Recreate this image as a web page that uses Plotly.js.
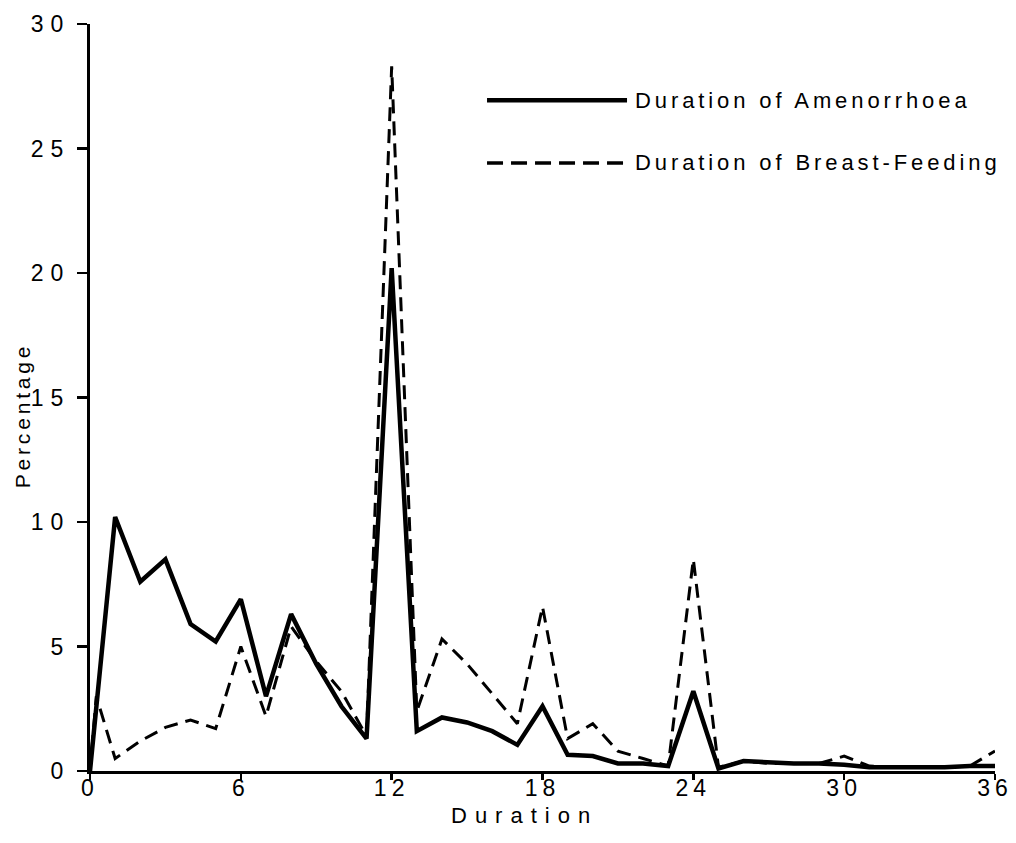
<!DOCTYPE html>
<html>
<head>
<meta charset="utf-8">
<script src="https://cdn.plot.ly/plotly-3.0.1.min.js"></script>
<style>
  html, body { margin: 0; padding: 0; background: #fff; }
  #chart { width: 1016px; height: 843px; }
  .xtick text { letter-spacing: 5px; }
  .ytick text { letter-spacing: 7px; }
</style>
</head>
<body>
<div id="chart"></div>
<script>
// Duration in months
const amenX = [0,1,2,3,4,5,6,7,8,9,10,11,12,13,14,15,16,17,18,19,20,21,22,23,24,25,26,27,28,29,30,31,32,33,34,35,36];
const amenY = [0,10.2,7.6,8.5,5.9,5.2,6.9,3.0,6.3,4.3,2.6,1.3,20.2,1.6,2.15,1.95,1.6,1.05,2.6,0.65,0.6,0.3,0.3,0.2,3.2,0.1,0.4,0.35,0.3,0.3,0.25,0.15,0.15,0.15,0.15,0.2,0.2];

const breastX = [0,0.25,1,2,3,4,5,6,7,8,9,10,11,12,13,14,15,16,17,18,19,20,21,22,23,24,25,26,27,28,29,30,31,32,33,34,35,36];
const breastY = [0,3.0,0.5,1.2,1.75,2.05,1.7,5.0,2.2,5.8,4.4,3.2,1.4,28.3,2.4,5.3,4.3,3.1,1.9,6.6,1.3,1.9,0.8,0.5,0.2,8.5,0.15,0.4,0.3,0.3,0.3,0.6,0.2,0.15,0.15,0.15,0.2,0.8];

const seriesNames = ["Duration of Amenorrhoea", "Duration of Breast-Feeding"];
const xTitle = "Duration";
const yTitle = "Percentage";
const xTicks = [0,6,12,18,24,30,36];
const yTicks = [0,5,10,15,20,25,30];

const font = "Liberation Sans, Arial, sans-serif";
const spaced = (t, px) => '<span style="letter-spacing:' + px + 'px">' + t + '</span>';

const traces = [
  { x: amenX, y: amenY, type: "scatter", mode: "lines", name: seriesNames[0],
    line: { color: "#000", width: 4.5 }, showlegend: false },
  { x: breastX, y: breastY, type: "scatter", mode: "lines", name: seriesNames[1],
    line: { color: "#000", width: 3, dash: "14px,8px" }, showlegend: false }
];

// manual legend (long line samples as in the original)
const legY = [0.898, 0.814];
const shapes = [
  { type: "line", xref: "paper", yref: "paper", x0: 0.4387, x1: 0.5934, y0: legY[0], y1: legY[0],
    line: { color: "#000", width: 4.5 } },
  { type: "line", xref: "paper", yref: "paper", x0: 0.4387, x1: 0.5934, y0: legY[1], y1: legY[1],
    line: { color: "#000", width: 3.5, dash: "16px,8px" } }
];
const annotations = seriesNames.map((t, i) => ({
  text: spaced(t, 3.9), xref: "paper", yref: "paper", x: 0.6, y: legY[i], xanchor: "left", yanchor: "middle",
  showarrow: false, font: { family: font, size: 22, color: "#000" }
}));
// axis titles
annotations.push({
  text: spaced(xTitle, 8), xref: "paper", yref: "paper", x: 0.4796, y: -0.0595,
  xanchor: "center", yanchor: "middle", showarrow: false,
  font: { family: font, size: 22, color: "#000" }
});
annotations.push({
  text: spaced(yTitle, 3.8), xref: "paper", yref: "paper", x: -0.0751, y: 0.475,
  xanchor: "center", yanchor: "middle", textangle: -90, showarrow: false,
  font: { family: font, size: 21, color: "#000" }
});

const layout = {
  width: 1016, height: 843,
  margin: { l: 90, r: 21, t: 24, b: 72 },
  paper_bgcolor: "#fff", plot_bgcolor: "#fff",
  showlegend: false,
  font: { family: font, color: "#000", size: 21 },
  xaxis: {
    range: [0, 36], tickmode: "array", tickvals: xTicks, ticktext: xTicks.map(String),
    showgrid: false, zeroline: false, showline: true, linecolor: "#000", linewidth: 3,
    ticks: "outside", ticklen: 6, tickwidth: 2.5, tickcolor: "#000",
    ticklabelstandoff: -12,
    tickfont: { family: font, size: 23, color: "#000" }
  },
  yaxis: {
    range: [0, 30], tickmode: "array", tickvals: yTicks, ticktext: yTicks.map(String),
    showgrid: false, zeroline: false, showline: true, linecolor: "#000", linewidth: 3,
    ticks: "outside", ticklen: 10, tickwidth: 2.5, tickcolor: "#000",
    ticklabelstandoff: 2,
    tickfont: { family: font, size: 23, color: "#000" }
  },
  shapes: shapes,
  annotations: annotations
};

Plotly.newPlot("chart", traces, layout, { displayModeBar: false, staticPlot: true });
</script>
</body>
</html>
